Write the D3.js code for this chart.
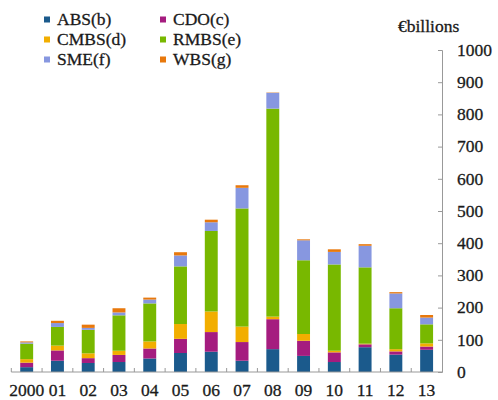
<!DOCTYPE html>
<html>
<head>
<meta charset="utf-8">
<script src="https://cdn.jsdelivr.net/npm/d3@7"></script>
<style>
  body { margin: 0; background: #fff; }
</style>
</head>
<body>
<script>
// Data
const years = ['2000', '01', '02', '03', '04', '05', '06', '07', '08', '09', '10', '11', '12', '13'];
const abs  = [15, 35, 28, 31, 42, 59, 63, 35, 71, 50, 31, 77, 54, 69];
const cdo  = [14, 32, 15, 22, 31, 44, 61, 58, 93, 47, 30, 9, 10, 10];
const cmbs = [11, 15, 15, 13, 22, 46, 64, 48, 8, 21, 5, 2, 7, 10];
const rmbs = [48, 58, 73, 110, 118, 179, 250, 367, 646, 229, 268, 237, 127, 59];
const sme  = [4, 12, 6, 9, 12, 34, 27, 64, 49, 62, 39, 67, 46, 21];
const wbs  = [3, 7, 10, 13, 6, 10, 8, 8, 1, 3, 8, 5, 4, 8];
const yTicks = [0, 100, 200, 300, 400, 500, 600, 700, 800, 900, 1000];

const seriesNames = ['ABS(b)', 'CDO(c)', 'CMBS(d)', 'RMBS(e)', 'SME(f)', 'WBS(g)'];
const seriesKeys = ['abs', 'cdo', 'cmbs', 'rmbs', 'sme', 'wbs'];
const colors = ['#1b5a8c', '#a51c7f', '#f2ae00', '#78b800', '#8797e0', '#e8780c'];

const width = 498, height = 400;
const margin = { left: 11.3, right: 56, top: 50, bottom: 28 };
const fontFamily = "'Liberation Serif', 'Times New Roman', serif";
const fontSize = 17.5;
const textColor = '#1a1a1a';

// Build table for stack
const table = years.map((y, i) => ({
    year: y, abs: abs[i], cdo: cdo[i], cmbs: cmbs[i], rmbs: rmbs[i], sme: sme[i], wbs: wbs[i]
}));
const stacked = d3.stack().keys(seriesKeys)(table);

let svg = d3
    .select('body')
    .append('svg')
    .attr('width', width)
    .attr('height', height)
    .attr('font-family', fontFamily);

let x = d3.scaleBand()
    .domain(years)
    .range([margin.left, width - margin.right])
    .paddingInner(0.58)
    .paddingOuter(0.29);

let y = d3.scaleLinear()
    .domain([0, 1000])
    .range([height - margin.bottom, margin.top]);

// Bars
svg.append('g')
    .selectAll('g')
    .data(stacked)
    .enter()
    .append('g')
    .attr('fill', (d, i) => colors[i])
    .selectAll('rect')
    .data(d => d)
    .enter()
    .append('rect')
    .attr('x', d => x(d.data.year))
    .attr('width', x.bandwidth())
    .attr('y', d => y(d[1]))
    .attr('height', d => y(d[0]) - y(d[1]));

// Y axis on right
let yAxis = svg.append('g')
    .attr('transform', `translate(${width - margin.right}, 0)`)
    .call(d3.axisLeft(y).tickValues(yTicks).tickSize(4).tickFormat(''));
yAxis.select('.domain').attr('stroke', '#999');
yAxis.selectAll('.tick line').attr('stroke', '#999');

// helper for label styling (slightly heavier strokes like the original)
function styleText(sel) {
    sel.attr('font-size', fontSize)
        .attr('fill', textColor)
        .attr('stroke', textColor)
        .attr('stroke-width', 0.3);
}

svg.append('g')
    .selectAll('text')
    .data(yTicks)
    .enter()
    .append('text')
    .attr('x', width - margin.right + 15)
    .attr('y', d => y(d))
    .attr('dy', '0.33em')
    .call(styleText)
    .text(d => d);

svg.append('text')
    .attr('x', 398)
    .attr('y', 32)
    .call(styleText)
    .text('€billions');

// X axis
let step = x.step();
let xAxis = svg.append('g');
xAxis.append('line')
    .attr('x1', margin.left)
    .attr('x2', width - margin.right)
    .attr('y1', y(0))
    .attr('y2', y(0))
    .attr('stroke', '#999');
xAxis.selectAll('.xt')
    .data(years)
    .enter()
    .append('line')
    .attr('class', 'xt')
    .attr('x1', d => x(d) + x.bandwidth() / 2 - step / 2)
    .attr('x2', d => x(d) + x.bandwidth() / 2 - step / 2)
    .attr('y1', y(0))
    .attr('y2', y(0) - 4)
    .attr('stroke', '#999');
xAxis.selectAll('text')
    .data(years)
    .enter()
    .append('text')
    .attr('x', d => x(d) + x.bandwidth() / 2)
    .attr('y', 396)
    .attr('text-anchor', 'middle')
    .call(styleText)
    .text(d => d);

// Legend
let legend = svg.append('g')
    .selectAll('g')
    .data(seriesNames)
    .enter()
    .append('g')
    .attr('transform', (d, i) => `translate(${i % 2 ? 160 : 44}, ${19.5 + Math.floor(i / 2) * 20})`);
legend.append('rect')
    .attr('x', 0)
    .attr('y', -3)
    .attr('width', 6)
    .attr('height', 6)
    .attr('fill', (d, i) => colors[i]);
legend.append('text')
    .attr('x', 13)
    .attr('dy', '0.33em')
    .call(styleText)
    .text(d => d);
</script>
</body>
</html>
